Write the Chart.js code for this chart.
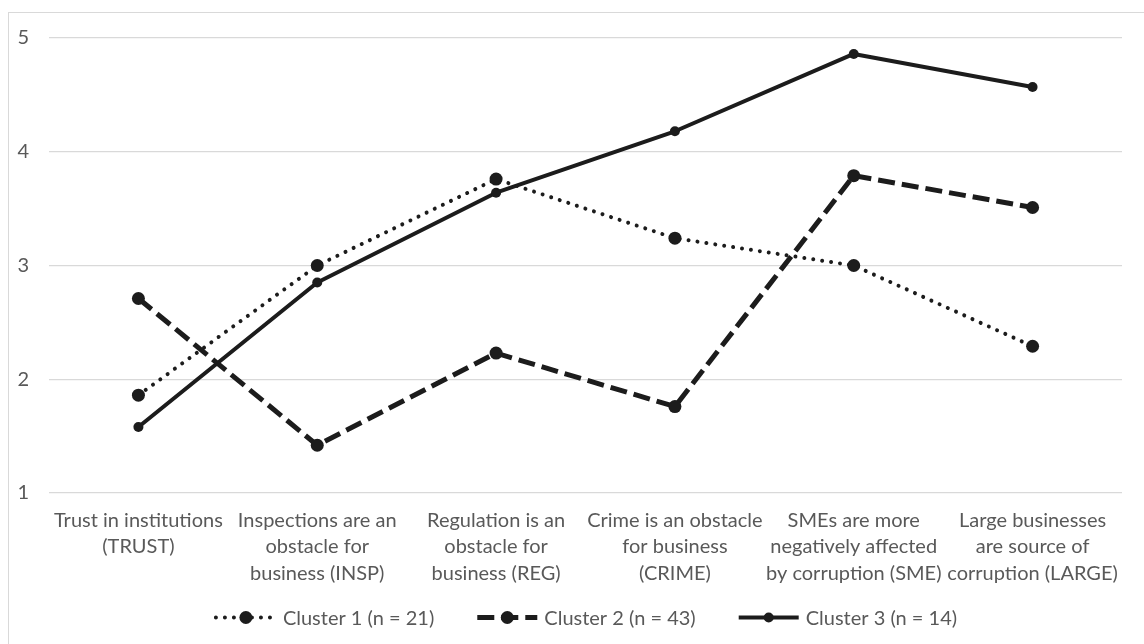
<!DOCTYPE html>
<html lang="en">
<head>
    <meta charset="UTF-8">
    <title>Cluster profiles</title>
    <script src="https://cdn.jsdelivr.net/npm/chart.js"></script>
    <style>
        body {
            margin: 0;
            padding: 0;
            background: #ffffff;
            overflow: hidden;
        }

        .frame {
            position: absolute;
            left: 8px;
            top: 12px;
            width: 1160px;
            height: 660px;
            border: 1px solid #d9d9d9;
        }

        #chart {
            position: absolute;
            left: 0;
            top: 0;
        }
    </style>
</head>
<body>
    <div class="frame"></div>
    <canvas id="chart" width="1144" height="644"></canvas>

    <script>
        const categories = [
            ["Trust in institutions", "(TRUST)"],
            ["Inspections are an", "obstacle for", "business (INSP)"],
            ["Regulation is an", "obstacle for", "business (REG)"],
            ["Crime is an obstacle", "for business", "(CRIME)"],
            ["SMEs are more", "negatively affected", "by corruption (SME)"],
            ["Large businesses", "are source of", "corruption (LARGE)"]
        ];
        const seriesNames = ["Cluster 1 (n = 21)", "Cluster 2 (n = 43)", "Cluster 3 (n = 14)"];
        const cluster1 = [1.86, 3.00, 3.76, 3.24, 3.00, 2.29];
        const cluster2 = [2.71, 1.42, 2.23, 1.76, 3.79, 3.51];
        const cluster3 = [1.58, 2.85, 3.64, 4.18, 4.86, 4.57];
        const yTicks = [1, 2, 3, 4, 5];

        const ink = '#1c1c1c';
        const textGray = '#595959';
        const fontFamily = 'Lato, "Open Sans", sans-serif';
        const fontSize = 20;

        // styles per series: dotted, dashed, solid
        const lineStyles = [
            { width: 4, dash: [0.01, 9], cap: 'round', radius: 6.5 },
            { width: 5, dash: [17, 7], cap: 'butt', radius: 6.5 },
            { width: 4, dash: [], cap: 'butt', radius: 5 }
        ];

        // hand-drawn legend: line sample with marker in the middle, then text
        const clusterLegend = {
            id: 'clusterLegend',
            afterDraw(chart) {
                const ctx = chart.ctx;
                const y = 617.5;
                const sampleW = 64, gap = 5, itemGap = 41;
                ctx.save();
                ctx.font = fontSize + 'px ' + fontFamily;
                const widths = seriesNames.map(t => ctx.measureText(t).width);
                const total = widths.reduce((a, w) => a + sampleW + gap + w, 0) + itemGap * (seriesNames.length - 1);
                let x = (chart.chartArea.left + chart.chartArea.right) / 2 - total / 2;
                seriesNames.forEach((name, i) => {
                    const s = lineStyles[i];
                    ctx.strokeStyle = ink;
                    ctx.lineWidth = s.width;
                    ctx.lineCap = s.cap;
                    ctx.setLineDash(s.dash);
                    ctx.beginPath();
                    ctx.moveTo(x + 2, y);
                    ctx.lineTo(x + sampleW - 2, y);
                    ctx.stroke();
                    ctx.setLineDash([]);
                    ctx.fillStyle = ink;
                    ctx.beginPath();
                    ctx.arc(x + sampleW / 2, y, s.radius, 0, Math.PI * 2);
                    ctx.fill();
                    ctx.fillStyle = textGray;
                    ctx.textBaseline = 'middle';
                    ctx.textAlign = 'left';
                    ctx.fillText(name, x + sampleW + gap, y + 1);
                    x += sampleW + gap + widths[i] + itemGap;
                });
                ctx.restore();
            }
        };

        function makeDataset(label, data, i) {
            const s = lineStyles[i];
            return {
                label: label,
                data: data,
                borderColor: ink,
                borderWidth: s.width,
                borderDash: s.dash,
                borderCapStyle: s.cap,
                borderJoinStyle: 'round',
                pointRadius: s.radius,
                pointHoverRadius: s.radius,
                pointBackgroundColor: ink,
                pointBorderWidth: 0,
                tension: 0,
                fill: false,
                order: 2 - i
            };
        }

        new Chart(document.getElementById('chart'), {
            type: 'line',
            data: {
                labels: categories,
                datasets: [
                    makeDataset(seriesNames[0], cluster1, 0),
                    makeDataset(seriesNames[1], cluster2, 1),
                    makeDataset(seriesNames[2], cluster3, 2)
                ]
            },
            options: {
                responsive: false,
                animation: false,
                layout: { padding: { top: 38, right: 22, left: 0, bottom: 0 } },
                plugins: {
                    legend: { display: false },
                    tooltip: { enabled: false }
                },
                scales: {
                    x: {
                        offset: true,
                        grid: { display: false, drawTicks: false },
                        border: { display: false },
                        ticks: {
                            autoSkip: false,
                            maxRotation: 0,
                            padding: 14,
                            color: textGray,
                            font: { family: fontFamily, size: fontSize, lineHeight: '26.5px' }
                        },
                        afterFit(scale) { scale.height = 151; }
                    },
                    y: {
                        min: 1,
                        max: 5,
                        grid: { color: '#d9d9d9', lineWidth: 1.3, drawTicks: false },
                        border: { display: false },
                        ticks: {
                            stepSize: 1,
                            padding: 20,
                            color: textGray,
                            font: { family: fontFamily, size: fontSize },
                            callback: (v) => yTicks.includes(v) ? String(v) : ''
                        },
                        afterFit(scale) { scale.width = 49; }
                    }
                }
            },
            plugins: [clusterLegend]
        });
    </script>
</body>
</html>
